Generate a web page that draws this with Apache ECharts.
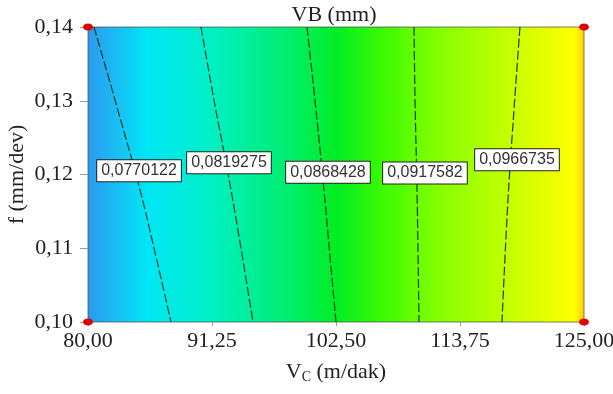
<!DOCTYPE html>
<html>
<head>
<meta charset="utf-8">
<script src="https://cdn.jsdelivr.net/npm/echarts@6/dist/echarts.min.js"></script>
<style>html,body{margin:0;padding:0;background:#fff}#c{width:613px;height:394px}</style>
</head>
<body>
<div id="c"></div>
<script>
// Axis ticks
const xTicks = [80.00, 91.25, 102.50, 113.75, 125.00];
const yTicks = [0.10, 0.11, 0.12, 0.13, 0.14];
// Contour levels (VB, mm)
const levels = ['0,0770122', '0,0819275', '0,0868428', '0,0917582', '0,0966735'];
// Contour lines traced as [Vc, f]
const contour1 = [[80.54,0.14],[82.45,0.1301],[84.72,0.1179],[85.99,0.1100],[87.53,0.10]];
const contour2 = [[90.25,0.14],[91.43,0.1301],[93.06,0.1172],[94.97,0.10]];
const contour3 = [[99.87,0.14],[100.59,0.1301],[101.41,0.1179],[101.96,0.1088],[102.50,0.10]];
const contour4 = [[109.58,0.14],[109.67,0.1301],[109.85,0.1179],[110.03,0.10]];
const contour5 = [[119.19,0.14],[118.65,0.1288],[118.10,0.1165],[117.56,0.10]];
// Label anchors [Vc, f]
const labelVc = [84.63, 92.79, 101.77, 110.57, 118.92];
const labelF = [0.1205, 0.1216, 0.1203, 0.1202, 0.1220];
// Design corner points
const corners = [[80,0.10],[80,0.14],[125,0.10],[125,0.14]];

const contours = [contour1, contour2, contour3, contour4, contour5];
const chart = echarts.init(document.getElementById('c'));
const serif = 'Liberation Serif';
const fmt = v => v.toFixed(2).replace('.', ',');
const series = contours.map(c => ({
  type: 'line', data: c, showSymbol: false, symbol: 'none', smooth: 0.4,
  lineStyle: {color: '#1c3a1c', width: 1.2, type: [9, 3]}, silent: true, z: 3
}));
series.push({
  type: 'scatter', symbolSize: 1, z: 5, silent: true,
  itemStyle: {opacity: 0},
  data: labelVc.map((v, i) => [v, labelF[i], levels[i]]),
  label: {show: true, position: 'inside', formatter: p => p.data[2], opacity: 1,
    fontFamily: 'Liberation Sans', fontSize: 16, color: '#333',
    backgroundColor: '#ffffff', borderColor: '#222', borderWidth: 1, padding: [3, 4, 2, 4]}
});
series.push({
  type: 'scatter', data: corners, symbol: 'circle', symbolSize: [10, 7],
  itemStyle: {color: '#e00000', opacity: 1}, clip: false, z: 6
});
chart.setOption({
  animation: false,
  title: {text: 'VB (mm)', left: 329, top: -1, textAlign: 'center',
    textStyle: {fontFamily: serif, fontSize: 22, fontWeight: 'normal', color: '#222'}},
  grid: {left: 88, right: 29, top: 27, bottom: 72, show: true, containLabel: false, outerBoundsMode: 'none',
    borderColor: 'rgba(70,70,70,0.7)', borderWidth: 1,
    backgroundColor: new echarts.graphic.LinearGradient(0, 0, 1, 0, [
      {offset: 0, color: '#2a98ee'},
      {offset: 0.05, color: '#1cb8f4'},
      {offset: 0.12, color: '#00e6f6'},
      {offset: 0.25, color: '#00f0c4'},
      {offset: 0.40, color: '#00ee70'},
      {offset: 0.50, color: '#00ee22'},
      {offset: 0.60, color: '#40fa00'},
      {offset: 0.70, color: '#80ff00'},
      {offset: 0.82, color: '#b8ff00'},
      {offset: 0.93, color: '#e8ff00'},
      {offset: 0.98, color: '#ffff00'},
      {offset: 1.0, color: '#ffd000'}
    ])},
  xAxis: {type: 'value', min: xTicks[0], max: xTicks[xTicks.length - 1], interval: xTicks[1] - xTicks[0],
    splitLine: {show: false}, axisLine: {show: false},
    axisTick: {show: true, length: 4, lineStyle: {color: '#999'}},
    axisLabel: {fontFamily: serif, fontSize: 22, color: '#222', margin: 8, formatter: fmt, hideOverlap: false},
    name: '{v|V}{s|C}{v| (m/dak)}', nameLocation: 'middle', nameGap: 38, nameMoveOverlap: false,
    nameTextStyle: {rich: {v: {fontFamily: serif, fontSize: 22, color: '#222'},
      s: {fontFamily: serif, fontSize: 14, color: '#222', verticalAlign: 'bottom', padding: [10, 0, 0, 0]}}}},
  yAxis: {type: 'value', min: yTicks[0], max: yTicks[yTicks.length - 1], interval: 0.01,
    splitLine: {show: false}, axisLine: {show: false},
    axisTick: {show: true, length: 8, lineStyle: {color: '#999'}},
    axisLabel: {fontFamily: serif, fontSize: 22, color: '#222', margin: 15, formatter: fmt, hideOverlap: false},
    name: 'f (mm/dev)', nameLocation: 'middle', nameGap: 60, nameMoveOverlap: false,
    nameTextStyle: {fontFamily: serif, fontSize: 22, color: '#222'}},
  series: series
});
</script>
</body>
</html>
